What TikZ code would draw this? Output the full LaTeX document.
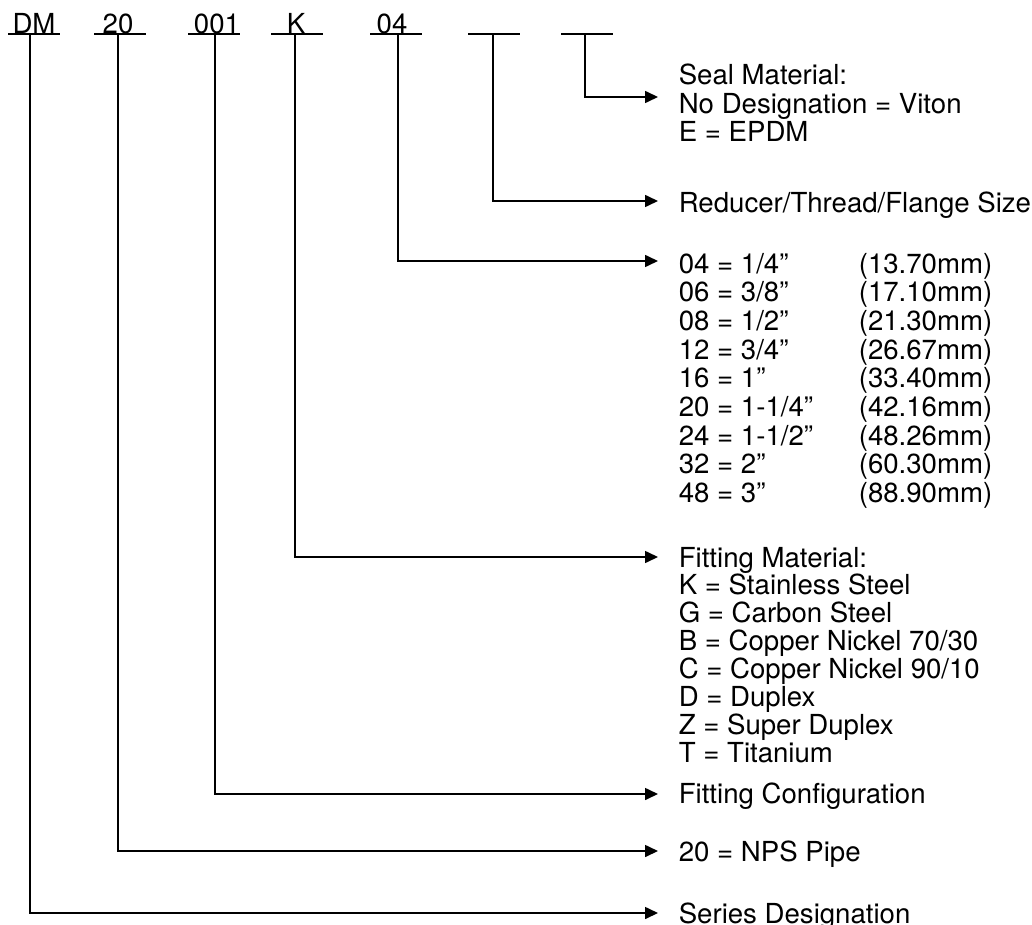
\documentclass[tikz,border=0pt]{standalone}
\usepackage{fontspec}
\setmainfont{TeX Gyre Heros}
\usetikzlibrary{arrows.meta}
\begin{document}
\begin{tikzpicture}[x=1pt,y=-1pt,line width=1.6pt,
  txt/.style={font=\fontsize{27.6}{28.4}\selectfont,inner sep=0pt,anchor=base west},
  codetxt/.style={font=\fontsize{27.6}{28.4}\selectfont,inner sep=0pt,anchor=base},
  conn/.style={-{Triangle[length=13pt,width=12pt]}},
  uline/.style={line width=1.6pt}]
\useasboundingbox (0,0) rectangle (1032,925);

% code letters
\node[codetxt] (cDM) at (34,33.5) {DM};
\node[codetxt] (c20) at (118,33.5) {20};
\node[codetxt] (c001) at (217,33.5) {001};
\node[codetxt] (cK) at (296,33.5) {K};
\node[codetxt] (c04) at (392,33.5) {04};

% underlines
\draw[uline] (8,34) -- (60,34);
\draw[uline] (94,34) -- (146,34);
\draw[uline] (188,34) -- (240,34);
\draw[uline] (271,34) -- (323,34);
\draw[uline] (370,34) -- (422,34);
\draw[uline] (468,34) -- (520,34);
\draw[uline] (561,34) -- (613,34);

% start coordinates on the underlines
\coordinate (sDM) at (30,34);
\coordinate (s20) at (118,34);
\coordinate (s001) at (215,34);
\coordinate (sK) at (295,34);
\coordinate (s04) at (398,34);
\coordinate (sR) at (493,34);
\coordinate (sS) at (585,34);

% arrow tips
\coordinate (tS) at (658,97);
\coordinate (tR) at (658,201);
\coordinate (t04) at (658,261);
\coordinate (tK) at (658,557);
\coordinate (t001) at (658,794);
\coordinate (t20) at (658,851);
\coordinate (tDM) at (658,913);

% connectors
\draw[conn] (sS) |- (tS);
\draw[conn] (sR) |- (tR);
\draw[conn] (s04) |- (t04);
\draw[conn] (sK) |- (tK);
\draw[conn] (s001) |- (t001);
\draw[conn] (s20) |- (t20);
\draw[conn] (sDM) |- (tDM);

% Seal block
\node[txt] (seal1) at (678,85) {Seal Material:};
\node[txt] (seal2) at (678,113.4) {No Designation = Viton};
\node[txt] (seal3) at (678,141.8) {E = EPDM};

% Reducer
\node[txt] (red) at (678,213) {Reducer/Thread/Flange Size};

% size table
\foreach \a/\b [count=\i from 0] in {{04 = 1/4”}/{(13.70mm)},{06 = 3/8”}/{(17.10mm)},{08 = 1/2”}/{(21.30mm)},{12 = 3/4”}/{(26.67mm)},{16 = 1”}/{(33.40mm)},{20 = 1-1/4”}/{(42.16mm)},{24 = 1-1/2”}/{(48.26mm)},{32 = 2”}/{(60.30mm)},{48 = 3”}/{(88.90mm)}}{
  \node[txt] (sz\i) at (678,273+\i*28.7) {\a};
  \node[txt] (mm\i) at (858,273+\i*28.7) {\b};
}

% Fitting material
\foreach \t [count=\i from 0] in {Fitting Material:,K = Stainless Steel,G = Carbon Steel,{B = Copper Nickel 70/30},{C = Copper Nickel 90/10},D = Duplex,Z = Super Duplex,T = Titanium}{
  \node[txt] (fm\i) at (678,567+\i*27.9) {\t};
}

\node[txt] (fc) at (678,803) {Fitting Configuration};
\node[txt] (nps) at (678,861) {20 = NPS Pipe};
\node[txt] (ser) at (678,923) {Series Designation};
\end{tikzpicture}
\end{document}
